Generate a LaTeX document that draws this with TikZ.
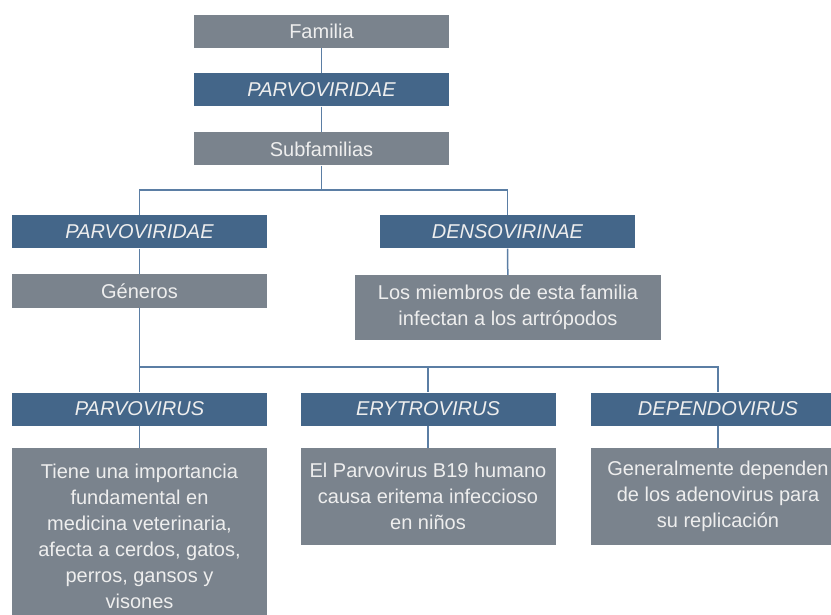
\documentclass[tikz,border=0pt]{standalone}
\usepackage{fontspec}
\setmainfont{Liberation Sans}
\usepackage{xcolor}
\usetikzlibrary{calc}
\definecolor{boxgray}{HTML}{7A838D}
\definecolor{boxblue}{HTML}{446689}
\definecolor{linkblue}{HTML}{5B7EA4}
\definecolor{txtlight}{HTML}{EEEEEE}
\tikzset{
  graybox/.style={fill=boxgray, text=txtlight, minimum width=255pt, minimum height=33pt,
    inner sep=2pt, align=center, font=\fontsize{20}{26}\selectfont},
  bluebox/.style={graybox, fill=boxblue, font=\fontsize{20}{26}\selectfont\itshape},
  link/.style={draw=linkblue, line width=1.5pt},
}

\begin{document}
\begin{tikzpicture}[x=1pt,y=-1pt]
  \useasboundingbox (0,0) rectangle (831,615);
  \clip (0,0) rectangle (831,615);
  % top column
  \node[graybox] (fam) at (321.5,31.5) {Familia};
  \node[bluebox] (parvo) at (321.5,90) {PARVOVIRIDAE};
  \node[graybox] (subfam) at (321.5,149) {Subfamilias};
  % subfamilies
  \node[bluebox] (parvoL) at (139.5,232) {PARVOVIRIDAE};
  \node[bluebox] (denso) at (507.5,232) {DENSOVIRINAE};
  \node[graybox] (generos) at (139.5,291) {Géneros};
  \node[graybox, minimum width=306pt, minimum height=65pt] (densotxt) at (508,307.5)
    {Los miembros de esta familia\\infectan a los artrópodos};
  % genera
  \node[bluebox] (parvovirus) at (139.5,409) {PARVOVIRUS};
  \node[bluebox] (erytro) at (428,409) {ERYTROVIRUS};
  \node[bluebox] (dependo) at (718,409) {DEPENDOVIRUS};
  \node[graybox, anchor=north, minimum height=176pt] (parvotxt) at (139.5,448)
    {Tiene una importancia\\fundamental en\\medicina veterinaria,\\afecta a cerdos, gatos,\\perros, gansos y\\visones};
  \node[graybox, anchor=north, minimum height=97pt] (erytxt) at (428,448)
    {El Parvovirus B19 humano\\causa eritema infeccioso\\en niños};
  \node[graybox, anchor=north, minimum height=97pt] (deptxt) at (718,448)
    {Generalmente dependen\\de los adenovirus para\\su replicación};
  % connectors
  \coordinate (split1) at (321.5,190);
  \coordinate (split2) at (139.5,367);
  \draw[link] (fam) -- (parvo);
  \draw[link] (parvo) -- (subfam);
  \draw[link] (subfam) -- (split1);
  \draw[link] (parvoL) |- (split1) -| (denso);
  \draw[link] (parvoL) -- (generos);
  \draw[link] (denso) -- (densotxt);
  \draw[link] (generos) -- (split2);
  \draw[link] (parvovirus) -- (split2) -| (dependo);
  \draw[link] (split2 -| erytro.north) -- (erytro);
  \draw[link] (parvovirus) -- (parvotxt);
  \draw[link] (erytro) -- (erytxt);
  \draw[link] (dependo) -- (deptxt);
\end{tikzpicture}
\end{document}
